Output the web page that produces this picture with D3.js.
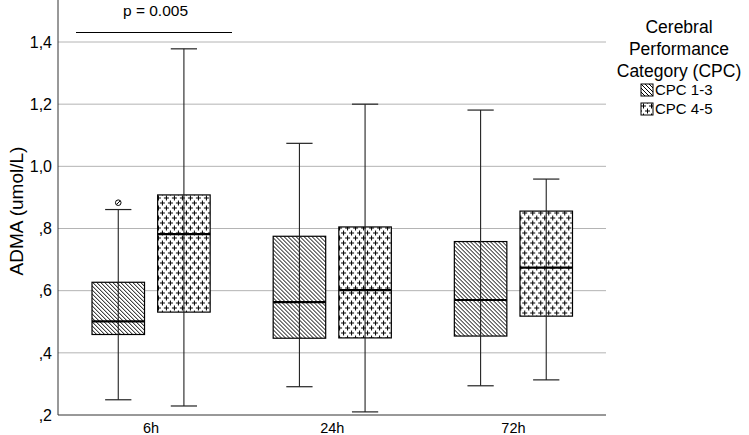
<!DOCTYPE html>
<html>
<head>
<meta charset="utf-8">
<script src="https://cdn.jsdelivr.net/npm/d3@7"></script>
<style>
  body { margin: 0; background: #fff; }
  text { font-family: "Liberation Sans", Arial, sans-serif; fill: #000; }
</style>
</head>
<body>
<div id="chart"></div>
<script>
// Data
const timepoints = ["6h", "24h", "72h"];
const groups = ["CPC 1-3", "CPC 4-5"];
const yTicks = [0.2, 0.4, 0.6, 0.8, 1.0, 1.2, 1.4];
const yTickLabels = [",2", ",4", ",6", ",8", "1,0", "1,2", "1,4"];

// [min whisker, Q1, median, Q3, max whisker] per timepoint
const cpc13 = [
    [0.249, 0.459, 0.501, 0.627, 0.861],
    [0.291, 0.447, 0.563, 0.775, 1.074],
    [0.294, 0.454, 0.570, 0.758, 1.181]
];
const cpc45 = [
    [0.229, 0.531, 0.782, 0.908, 1.378],
    [0.210, 0.448, 0.602, 0.805, 1.200],
    [0.313, 0.518, 0.674, 0.856, 0.959]
];
const outliers = [{ time: "6h", group: "CPC 1-3", value: 0.883 }];
const pValue = "p = 0.005";

const width = 749;
const height = 435;
const plot = { left: 58, right: 606, top: 0, bottom: 415 };

const svg = d3.select("#chart")
    .append("svg")
    .attr("width", width)
    .attr("height", height);

// Fill patterns
const defs = svg.append("defs");
const hatch = defs.append("pattern")
    .attr("id", "hatch")
    .attr("patternUnits", "userSpaceOnUse")
    .attr("width", 4)
    .attr("height", 4);
hatch.append("rect").attr("width", 4).attr("height", 4).attr("fill", "#fff");
hatch.append("path")
    .attr("d", "M-1,-1 L5,5 M-1,3 L1,5 M3,-1 L5,1")
    .attr("stroke", "#000")
    .attr("stroke-width", 1);

const plus = defs.append("pattern")
    .attr("id", "plus")
    .attr("patternUnits", "userSpaceOnUse")
    .attr("width", 8)
    .attr("height", 10);
plus.append("rect").attr("width", 8).attr("height", 10).attr("fill", "#fff");
plus.append("path")
    .attr("d", "M2.5,0.5 V5.5 M0,3 H5 M6.5,5.5 V10.5 M4,8 H9 M6.5,0 V0.5 M-1.5,8 H1")
    .attr("stroke", "#000")
    .attr("stroke-width", 1);

const fills = { "CPC 1-3": "url(#hatch)", "CPC 4-5": "url(#plus)" };

// Scales
const x = d3.scaleBand()
    .domain(timepoints)
    .range([60.5, 604]);

const xSub = d3.scaleBand()
    .domain(groups)
    .range([0, x.bandwidth()])
    .paddingInner(0.2)
    .paddingOuter(0.48);

const y = d3.scaleLinear()
    .domain([0.2, 1.4])
    .range([plot.bottom, 42]);

// Gridlines
svg.append("g")
    .selectAll("line")
    .data(yTicks.slice(1))
    .join("line")
    .attr("x1", plot.left)
    .attr("x2", plot.right)
    .attr("y1", d => y(d))
    .attr("y2", d => y(d))
    .attr("stroke", "#b4b4b4")
    .attr("stroke-width", 1);

// Axes lines
svg.append("line")
    .attr("x1", plot.left).attr("x2", plot.left)
    .attr("y1", plot.top).attr("y2", plot.bottom)
    .attr("stroke", "#333").attr("stroke-width", 1);
svg.append("line")
    .attr("x1", plot.left).attr("x2", plot.right)
    .attr("y1", plot.bottom).attr("y2", plot.bottom)
    .attr("stroke", "#333").attr("stroke-width", 1);

// Y tick labels
svg.append("g")
    .selectAll("text")
    .data(yTicks)
    .join("text")
    .attr("x", 52)
    .attr("y", d => y(d))
    .attr("dy", "0.36em")
    .attr("text-anchor", "end")
    .attr("font-size", 16)
    .text((d, i) => yTickLabels[i]);

// X tick labels
svg.append("g")
    .selectAll("text")
    .data(timepoints)
    .join("text")
    .attr("x", d => x(d) + x.bandwidth() / 2)
    .attr("y", 433)
    .attr("text-anchor", "middle")
    .attr("font-size", 14.5)
    .text(d => d);

// Y axis title
svg.append("text")
    .attr("transform", "translate(23,211) rotate(-90)")
    .attr("text-anchor", "middle")
    .attr("font-size", 19)
    .text("ADMA (umol/L)");

// Build box records
const boxes = [];
timepoints.forEach((t, i) => {
    boxes.push({ time: t, group: groups[0], s: cpc13[i] });
    boxes.push({ time: t, group: groups[1], s: cpc45[i] });
});

const boxW = xSub.bandwidth();
const capW = boxW / 2;

const boxG = svg.append("g")
    .selectAll("g")
    .data(boxes)
    .join("g")
    .attr("transform", d => `translate(${x(d.time) + xSub(d.group) + boxW / 2},0)`);

boxG.append("rect")
    .attr("x", -boxW / 2)
    .attr("width", boxW)
    .attr("y", d => y(d.s[3]))
    .attr("height", d => y(d.s[1]) - y(d.s[3]))
    .attr("fill", d => fills[d.group])
    .attr("stroke", "#000")
    .attr("stroke-width", 1.2);

// Whisker stem (drawn through the box)
boxG.append("line")
    .attr("x1", 0).attr("x2", 0)
    .attr("y1", d => y(d.s[0]))
    .attr("y2", d => y(d.s[4]))
    .attr("stroke", "#222")
    .attr("stroke-width", 1.1);

// Caps
boxG.selectAll("line.cap")
    .data(d => [d.s[0], d.s[4]])
    .join("line")
    .attr("class", "cap")
    .attr("x1", -capW / 2).attr("x2", capW / 2)
    .attr("y1", v => y(v)).attr("y2", v => y(v))
    .attr("stroke", "#222")
    .attr("stroke-width", 1.2);

// Median
boxG.append("line")
    .attr("x1", -boxW / 2).attr("x2", boxW / 2)
    .attr("y1", d => y(d.s[2]))
    .attr("y2", d => y(d.s[2]))
    .attr("stroke", "#000")
    .attr("stroke-width", 2.2);

// Outliers
const outG = svg.append("g")
    .selectAll("g")
    .data(outliers)
    .join("g")
    .attr("transform", d => `translate(${x(d.time) + xSub(d.group) + boxW / 2},${y(d.value)})`);
outG.append("circle")
    .attr("r", 2.8)
    .attr("fill", "#fff")
    .attr("stroke", "#000")
    .attr("stroke-width", 1);
outG.append("line")
    .attr("x1", -1.8).attr("y1", 1.8)
    .attr("x2", 1.8).attr("y2", -1.8)
    .attr("stroke", "#000")
    .attr("stroke-width", 1);

// Significance bar
svg.append("line")
    .attr("x1", 76).attr("x2", 232)
    .attr("y1", 32.5).attr("y2", 32.5)
    .attr("stroke", "#000")
    .attr("stroke-width", 1.2);
svg.append("text")
    .attr("x", 155.5)
    .attr("y", 16)
    .attr("text-anchor", "middle")
    .attr("font-size", 15.5)
    .text(pValue);

// Legend
const legend = svg.append("g");
legend.append("text")
    .attr("text-anchor", "middle")
    .attr("font-size", 17.5)
    .selectAll("tspan")
    .data(["Cerebral", "Performance", "Category (CPC)"])
    .join("tspan")
    .attr("x", 679)
    .attr("y", (d, i) => 33 + i * 22)
    .text(d => d);

const items = legend.selectAll("g.item")
    .data(groups)
    .join("g")
    .attr("class", "item")
    .attr("transform", (d, i) => `translate(641,${84 + i * 19})`);
items.append("rect")
    .attr("width", 12)
    .attr("height", 12)
    .attr("fill", d => fills[d])
    .attr("stroke", "#000")
    .attr("stroke-width", 1);
items.append("text")
    .attr("x", 14)
    .attr("y", 6)
    .attr("dy", "0.36em")
    .attr("font-size", 15)
    .text(d => d);
</script>
</body>
</html>
